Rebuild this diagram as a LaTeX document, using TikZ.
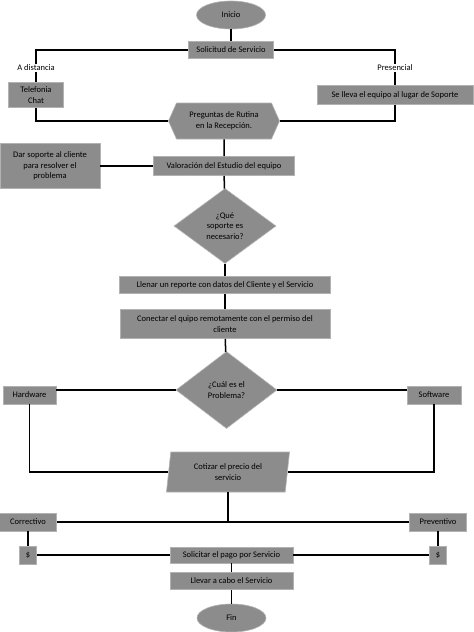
\documentclass[tikz,border=0pt]{standalone}
\usepackage{fontspec}
\setmainfont{Carlito}
\usetikzlibrary{shapes.geometric,shapes.symbols}
\definecolor{boxgray}{RGB}{140,140,140}
\definecolor{edgegray}{RGB}{178,178,178}

\begin{document}
\begin{tikzpicture}[x=1pt,y=-1pt,
    font=\fontsize{8.5}{10.6}\selectfont,
    caja/.style={rectangle,fill=boxgray,draw=edgegray,line width=0.6pt,inner sep=1pt,align=center},
    terminal/.style={ellipse,fill=boxgray,draw=edgegray,line width=0.6pt,minimum width=69pt,minimum height=28pt,inner sep=0pt},
    rombo/.style={diamond,fill=boxgray,draw=edgegray,line width=0.6pt,align=center,inner sep=0pt},
    hexa/.style={signal,signal to=west and east,signal pointer angle=132,fill=boxgray,draw=edgegray,line width=0.6pt,align=center,minimum width=111pt,minimum height=36pt,inner sep=1pt},
    parale/.style={trapezium,trapezium left angle=77,trapezium right angle=103,trapezium stretches body=true,fill=boxgray,draw=edgegray,line width=0.6pt,align=center,minimum width=123pt,minimum height=40pt,inner sep=1pt},
    etiqueta/.style={inner sep=1pt},
    linea/.style={line width=1.5pt}]
  \useasboundingbox (0,0) rectangle (474,632);

  \node[terminal] (inicio) at (231,15) {Inicio};
  \node[caja,minimum width=85pt,minimum height=17pt] (solicitud) at (231,50) {Solicitud de Servicio};
  \node[etiqueta] (distancia) at (36,68) {A distancia};
  \node[etiqueta] (presencial) at (395,68) {Presencial};
  \node[caja,minimum width=55pt,minimum height=25pt] (tel) at (36,95) {Telefonia\\Chat};
  \node[caja,minimum width=156pt,minimum height=19pt] (lleva) at (395,95) {Se lleva el equipo al lugar de Soporte};
  \node[hexa] (preguntas) at (224,121) {Preguntas de Rutina\\en la Recepción.};
  \node[caja,minimum width=141pt,minimum height=19pt] (valoracion) at (224,166) {Valoración del Estudio del equipo};
  \node[caja,minimum width=100pt,minimum height=45pt] (dar) at (50,166) {Dar soporte al cliente\\para resolver el\\problema};
  \node[rombo,minimum width=102pt,minimum height=75pt] (quesop) at (225,226) {¿Qué\\soporte es\\necesario?};
  \node[caja,minimum width=211pt,minimum height=17pt] (llenar) at (225,285) {Llenar un reporte con datos del Cliente y el Servicio};
  \node[caja,minimum width=210pt,minimum height=29pt] (conectar) at (225,324) {Conectar el quipo remotamente con el permiso del\\cliente};
  \node[rombo,minimum width=101pt,minimum height=77pt] (cual) at (226.5,390) {¿Cuál es el\\Problema?};
  \node[caja,minimum width=53pt,minimum height=18pt] (hard) at (29.5,395) {Hardware};
  \node[caja,minimum width=54pt,minimum height=18pt] (soft) at (434,395) {Software};
  \node[parale] (cotizar) at (228,472) {Cotizar el precio del\\servicio};
  \node[caja,minimum width=57pt,minimum height=18pt] (correct) at (28,522) {Correctivo};
  \node[caja,minimum width=57pt,minimum height=18pt] (prevent) at (438,522) {Preventivo};
  \node[caja,minimum width=17pt,minimum height=18pt] (pagoL) at (28,555) {\$};
  \node[caja,minimum width=17pt,minimum height=18pt] (pagoR) at (438,555) {\$};
  \node[caja,minimum width=123pt,minimum height=16pt] (solicitar) at (231.5,555) {Solicitar el pago por Servicio};
  \node[caja,minimum width=123pt,minimum height=17pt] (llevar) at (231.5,581) {Llevar a cabo el Servicio};
  \node[terminal] (fin) at (231.5,618) {Fin};

  \draw[linea] (inicio) -- (solicitud);
  \draw[linea] (solicitud.west) -| (distancia.north);
  \draw[linea] (distancia.south) -- (tel.north);
  \draw[linea] (solicitud.east) -| (presencial.north);
  \draw[linea] (presencial.south) -- (lleva.north);
  \draw[linea] (tel.south) |- (preguntas.west);
  \draw[linea] (lleva.south) |- (preguntas.east);
  \draw[linea] (preguntas) -- (valoracion);
  \draw[linea] (dar) -- (valoracion);
  \draw[linea] (valoracion) -- (quesop);
  \draw[linea] (quesop) -- (llenar);
  \draw[linea] (llenar) -- (conectar);
  \draw[linea] (conectar) -- (cual);
  \draw[linea] (cual.west) -- (cual.west -| hard.east);
  \draw[linea] (cual.east) -- (cual.east -| soft.west);
  \draw[linea] (hard.south) |- (cotizar.west);
  \draw[linea] (soft.south) |- (cotizar.east);
  \coordinate (reparto) at (cotizar.south |- correct.east);
  \draw[linea] (cotizar.south) -- (reparto);
  \draw[linea] (correct.east) -- (prevent.west);
  \draw[linea] (correct) -- (pagoL);
  \draw[linea] (prevent) -- (pagoR);
  \draw[linea] (pagoL) -- (solicitar);
  \draw[linea] (pagoR) -- (solicitar);
  \draw[linea] (solicitar) -- (llevar);
  \draw[linea] (llevar) -- (fin);
\end{tikzpicture}
\end{document}
